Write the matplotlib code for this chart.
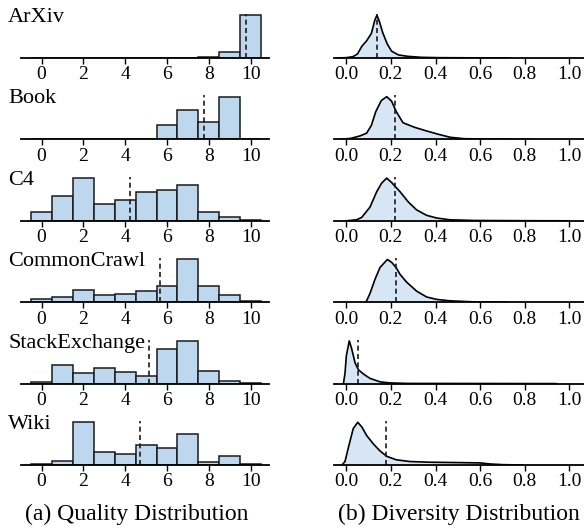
import numpy as np
import matplotlib
matplotlib.use("Agg")
import matplotlib.pyplot as plt

plt.rcParams["font.family"] = ["Liberation Serif", "DejaVu Serif"]

# ---------------- data ----------------
names = ["ArXiv", "Book", "C4", "CommonCrawl", "StackExchange", "Wiki"]
bins = list(range(11))

# quality histograms (relative heights per score bin 0..10)
q_arxiv = [0.3, 0.3, 0.3, 0.3, 0.3, 0.3, 0.3, 0.5, 3, 17, 129]
q_book = [0.4, 0.4, 0.4, 0.5, 1, 2, 41, 85, 52, 125, 2]
q_c4 = [26, 74, 126, 51, 61, 84, 92, 105, 26, 11, 2]
q_cc = [10, 16, 36, 22, 24, 33, 49, 126, 49, 20, 5]
q_se = [4, 54, 30, 47, 34, 23, 100, 125, 37, 9, 3]
q_wiki = [3, 11, 126, 39, 33, 59, 49, 92, 10, 27, 4]
q_means = [9.78, 7.78, 4.23, 5.68, 5.14, 4.70]

# diversity density curves (x, relative density)
d_arxiv_x = [-0.04, 0.0, 0.03, 0.05, 0.07, 0.09, 0.112, 0.127, 0.137, 0.147, 0.163, 0.183, 0.203, 0.234, 0.274, 0.335, 0.41, 0.56, 0.73]
d_arxiv_y = [0, 1, 4, 12, 35, 50, 72, 110, 126, 110, 75, 42, 20, 9, 5, 2, 1, 0.5, 0]
d_book_x = [-0.03, 0.02, 0.061, 0.091, 0.112, 0.132, 0.157, 0.181, 0.203, 0.224, 0.254, 0.305, 0.356, 0.417, 0.467, 0.528, 0.63, 0.83]
d_book_y = [0, 3, 10, 18, 40, 80, 112, 123, 110, 80, 48, 35, 25, 14, 6, 2, 1, 0]
d_c4_x = [0.0, 0.046, 0.069, 0.106, 0.136, 0.158, 0.181, 0.203, 0.241, 0.278, 0.315, 0.36, 0.406, 0.464, 0.57, 0.79, 1.0]
d_c4_y = [0, 3, 10, 40, 85, 110, 125, 112, 85, 55, 32, 16, 8, 3, 1, 0.3, 0]
d_cc_x = [0.088, 0.106, 0.128, 0.151, 0.184, 0.203, 0.223, 0.241, 0.27, 0.315, 0.36, 0.406, 0.464, 0.57, 0.72]
d_cc_y = [0, 25, 65, 100, 123, 115, 100, 80, 58, 32, 15, 8, 4, 1, 0]
d_se_x = [-0.013, -0.006, 0.0, 0.013, 0.024, 0.039, 0.054, 0.076, 0.106, 0.152, 0.193, 0.274, 0.94]
d_se_y = [0, 30, 80, 123, 100, 60, 40, 28, 15, 5, 2, 0.5, 0]
d_wiki_x = [-0.02, -0.006, 0.009, 0.031, 0.051, 0.069, 0.091, 0.122, 0.152, 0.181, 0.224, 0.285, 0.376, 0.495, 0.6, 0.644, 0.7, 0.79]
d_wiki_y = [0, 10, 50, 105, 123, 110, 85, 60, 40, 25, 15, 10, 8, 7, 6, 3, 1, 0]
d_means = [0.136, 0.219, 0.219, 0.223, 0.051, 0.177]

quality = [q_arxiv, q_book, q_c4, q_cc, q_se, q_wiki]
div_x = [d_arxiv_x, d_book_x, d_c4_x, d_cc_x, d_se_x, d_wiki_x]
div_y = [d_arxiv_y, d_book_y, d_c4_y, d_cc_y, d_se_y, d_wiki_y]

# ---------------- layout ----------------
W, H = 584, 530
fig = plt.figure(figsize=(W / 100, H / 100), dpi=100)

bar_color = "#bdd7ee"
kde_color = "#d6e6f4"
axis_px = [58 + i * 81.4 for i in range(6)]
ax_h = 44

def style(ax):
    for s in ["top", "left", "right"]:
        ax.spines[s].set_visible(False)
    ax.spines["bottom"].set_linewidth(1.3)
    ax.set_yticks([])
    ax.tick_params(axis="x", labelsize=14, length=4, width=1, pad=2)

for i in range(6):
    y0 = 1 - axis_px[i] / H
    # left: quality histogram
    ax = fig.add_axes([20.7 / W, y0, (269 - 20.7) / W, ax_h / H])
    ax.bar(bins, quality[i], width=1, color=bar_color, edgecolor="#1a1a1a", linewidth=1.1)
    ax.axvline(q_means[i], color="#1a1a1a", ls="--", lw=1.2, dashes=(3, 2))
    ax.set_xlim(-1.0, 10.88)
    ax.set_ylim(0, max(quality[i]) * 1.03)
    ax.set_xticks([0, 2, 4, 6, 8, 10])
    style(ax)
    fig.text(8 / W, 1 - (axis_px[i] - 36) / H, names[i], fontsize=16, va="baseline", ha="left")

    # right: diversity density
    ax2 = fig.add_axes([334.3 / W, y0, (W - 334.3) / W, ax_h / H])
    ax2.fill_between(div_x[i], div_y[i], color=kde_color)
    ax2.plot(div_x[i], div_y[i], color="black", lw=1.2)
    ax2.axvline(d_means[i], color="#1a1a1a", ls="--", lw=1.2, dashes=(3, 2))
    ax2.set_xlim(-0.054, 1.066)
    ax2.set_ylim(0, max(div_y[i]) * 1.03)
    ax2.set_xticks([0.0, 0.2, 0.4, 0.6, 0.8, 1.0])
    ax2.set_xticklabels(["0.0", "0.2", "0.4", "0.6", "0.8", "1.0"])
    style(ax2)

fig.text(137 / W, 1 - 520 / H, "(a) Quality Distribution", fontsize=17, ha="center", va="baseline")
fig.text(458.7 / W, 1 - 520 / H, "(b) Diversity Distribution", fontsize=17, ha="center", va="baseline")

fig.savefig("out.png", dpi=100)
